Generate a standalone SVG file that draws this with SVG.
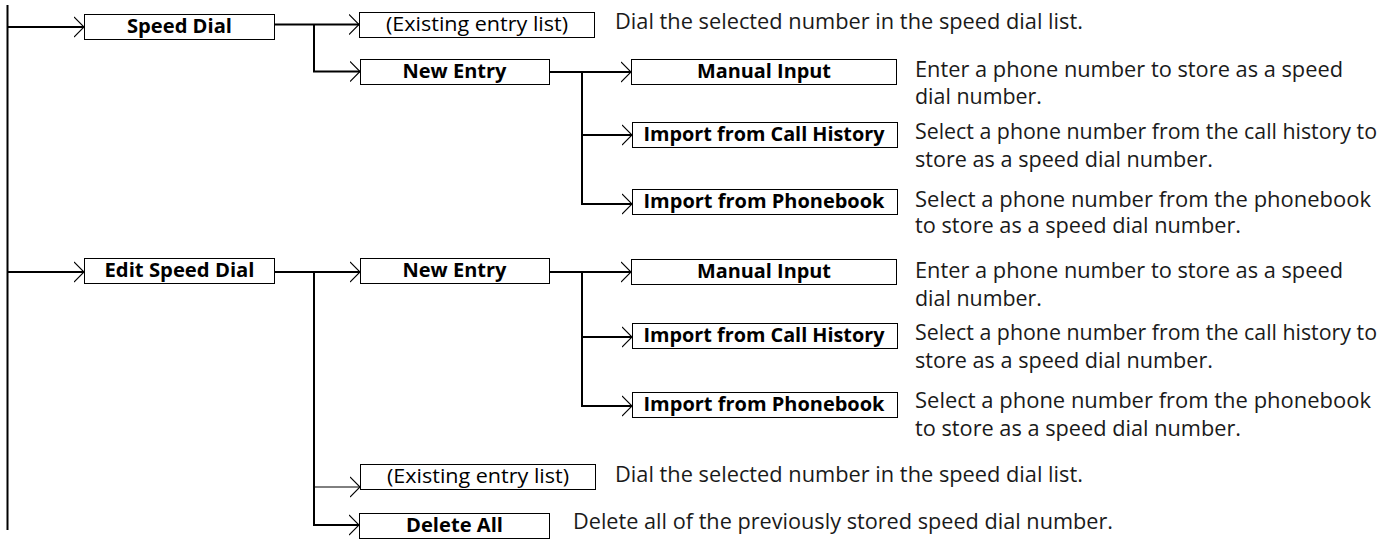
<svg xmlns="http://www.w3.org/2000/svg" width="1396" height="539" viewBox="0 0 1396 539">
<style>
  .box { fill: #fff; stroke: #000; stroke-width: 1; }
  .lbl { font-family: "Open Sans", "Liberation Sans", sans-serif; font-size: 19.5px; font-weight: bold; fill: #000; text-anchor: middle; }
  .lbl.reg { font-weight: normal; }
  .desc { font-family: "Open Sans", "Liberation Sans", sans-serif; font-size: 21px; fill: #1a1a1a; }
  .con { fill: none; stroke: #000; stroke-width: 2; }
  .con.thin { stroke-width: 1; }
</style>
<defs>
  <marker id="chev" viewBox="0 0 11 22" refX="10.5" refY="11" markerWidth="11" markerHeight="22" markerUnits="userSpaceOnUse" orient="auto">
    <path d="M0.5,1 L10.5,11 L0.5,21" fill="none" stroke="#000" stroke-width="1.1"/>
  </marker>
</defs>

<g id="connectors">
  <path class="con" d="M7.5,5 V530"/>
  <path class="con" d="M7.5,27 H84" marker-end="url(#chev)"/>
  <path class="con" d="M274,24.5 H359" marker-end="url(#chev)"/>
  <path class="con" d="M314,24.5 V71.5 H360" marker-end="url(#chev)"/>
  <path class="con" d="M549,72 H631" marker-end="url(#chev)"/>
  <path class="con" d="M582,72 V135 H632" marker-end="url(#chev)"/>
  <path class="con" d="M582,135 V204 H632" marker-end="url(#chev)"/>
  <path class="con" d="M7.5,272 H84" marker-end="url(#chev)"/>
  <path class="con" d="M274,272 H360" marker-end="url(#chev)"/>
  <path class="con" d="M314,272 V525 H359" marker-end="url(#chev)"/>
  <path class="con thin" d="M314,487 H360" marker-end="url(#chev)"/>
  <path class="con" d="M549,272 H631" marker-end="url(#chev)"/>
  <path class="con" d="M582,272 V337 H632" marker-end="url(#chev)"/>
  <path class="con" d="M582,337 V406 H632" marker-end="url(#chev)"/>
</g>

<g id="speed-dial">
  <rect class="box" x="84.5" y="14.5" width="190" height="25"/>
  <text class="lbl" x="179.5" y="32.5" textLength="105" lengthAdjust="spacingAndGlyphs">Speed Dial</text>
</g>
<g id="existing-1">
  <rect class="box" x="359.5" y="12.5" width="235" height="25"/>
  <text class="lbl reg" x="477" y="30.5" textLength="182" lengthAdjust="spacingAndGlyphs">(Existing entry list)</text>
  <text class="desc" x="615" y="29" textLength="468" lengthAdjust="spacingAndGlyphs">Dial the selected number in the speed dial list.</text>
</g>
<g id="new-entry-1">
  <rect class="box" x="360.5" y="59.5" width="189" height="25"/>
  <text class="lbl" x="454.5" y="77.5" textLength="104" lengthAdjust="spacingAndGlyphs">New Entry</text>
</g>
<g id="manual-input-1">
  <rect class="box" x="631.5" y="59.5" width="265" height="25"/>
  <text class="lbl" x="764" y="77.5" textLength="134" lengthAdjust="spacingAndGlyphs">Manual Input</text>
  <text class="desc" x="915" y="77" textLength="428" lengthAdjust="spacingAndGlyphs">Enter a phone number to store as a speed</text>
  <text class="desc" x="915" y="104" textLength="127" lengthAdjust="spacingAndGlyphs">dial number.</text>
</g>
<g id="call-history-1">
  <rect class="box" x="632.5" y="122.5" width="265" height="25"/>
  <text class="lbl" x="764" y="140.5" textLength="241" lengthAdjust="spacingAndGlyphs">Import from Call History</text>
  <text class="desc" x="915" y="139" textLength="462" lengthAdjust="spacingAndGlyphs">Select a phone number from the call history to</text>
  <text class="desc" x="915" y="167" textLength="298" lengthAdjust="spacingAndGlyphs">store as a speed dial number.</text>
</g>
<g id="phonebook-1">
  <rect class="box" x="632.5" y="189.5" width="265" height="25"/>
  <text class="lbl" x="764" y="207.5" textLength="241" lengthAdjust="spacingAndGlyphs">Import from Phonebook</text>
  <text class="desc" x="915" y="207" textLength="456" lengthAdjust="spacingAndGlyphs">Select a phone number from the phonebook</text>
  <text class="desc" x="915" y="233" textLength="326" lengthAdjust="spacingAndGlyphs">to store as a speed dial number.</text>
</g>

<g id="edit-speed-dial">
  <rect class="box" x="84.5" y="258.5" width="190" height="25"/>
  <text class="lbl" x="179.5" y="276.5" textLength="150" lengthAdjust="spacingAndGlyphs">Edit Speed Dial</text>
</g>
<g id="new-entry-2">
  <rect class="box" x="360.5" y="258.5" width="189" height="25"/>
  <text class="lbl" x="454.5" y="276.5" textLength="104" lengthAdjust="spacingAndGlyphs">New Entry</text>
</g>
<g id="manual-input-2">
  <rect class="box" x="631.5" y="259.5" width="265" height="25"/>
  <text class="lbl" x="764" y="277.5" textLength="134" lengthAdjust="spacingAndGlyphs">Manual Input</text>
  <text class="desc" x="915" y="278" textLength="428" lengthAdjust="spacingAndGlyphs">Enter a phone number to store as a speed</text>
  <text class="desc" x="915" y="306" textLength="127" lengthAdjust="spacingAndGlyphs">dial number.</text>
</g>
<g id="call-history-2">
  <rect class="box" x="632.5" y="323.5" width="265" height="25"/>
  <text class="lbl" x="764" y="341.5" textLength="241" lengthAdjust="spacingAndGlyphs">Import from Call History</text>
  <text class="desc" x="915" y="340" textLength="462" lengthAdjust="spacingAndGlyphs">Select a phone number from the call history to</text>
  <text class="desc" x="915" y="368" textLength="298" lengthAdjust="spacingAndGlyphs">store as a speed dial number.</text>
</g>
<g id="phonebook-2">
  <rect class="box" x="632.5" y="392.5" width="265" height="25"/>
  <text class="lbl" x="764" y="410.5" textLength="241" lengthAdjust="spacingAndGlyphs">Import from Phonebook</text>
  <text class="desc" x="915" y="408" textLength="456" lengthAdjust="spacingAndGlyphs">Select a phone number from the phonebook</text>
  <text class="desc" x="915" y="436" textLength="326" lengthAdjust="spacingAndGlyphs">to store as a speed dial number.</text>
</g>
<g id="existing-2">
  <rect class="box" x="360.5" y="464.5" width="235" height="25"/>
  <text class="lbl reg" x="478" y="482.5" textLength="182" lengthAdjust="spacingAndGlyphs">(Existing entry list)</text>
  <text class="desc" x="615" y="482" textLength="468" lengthAdjust="spacingAndGlyphs">Dial the selected number in the speed dial list.</text>
</g>
<g id="delete-all">
  <rect class="box" x="359.5" y="513.5" width="190" height="25"/>
  <text class="lbl" x="454.5" y="531.5" textLength="97" lengthAdjust="spacingAndGlyphs">Delete All</text>
  <text class="desc" x="573" y="529" textLength="540" lengthAdjust="spacingAndGlyphs">Delete all of the previously stored speed dial number.</text>
</g>
</svg>
